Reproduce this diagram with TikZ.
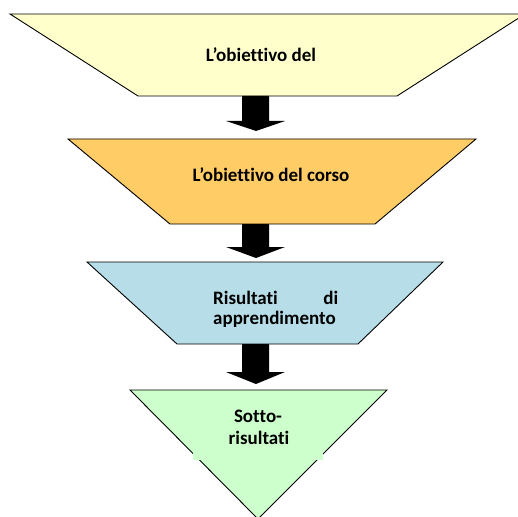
\documentclass[tikz,border=0pt]{standalone}
\usepackage{fontspec}
\setmainfont{Carlito}[Ligatures={NoCommon,NoContextual}]
\definecolor{cyellow}{HTML}{FFFFCC}
\definecolor{corange}{HTML}{FFCC66}
\definecolor{cblue}{HTML}{B7DEE8}
\definecolor{cgreen}{HTML}{CCFFCC}
\newcommand{\sq}{\char"0027\relax}
\tikzset{
  level/.style={draw=black, line width=0.9bp, line join=miter},
  label/.style={inner sep=0pt, anchor=base, font=\fontsize{19bp}{21bp}\selectfont\bfseries},
  barrow/.style={fill=black, draw=none}
}
\begin{document}
\begin{tikzpicture}[x=1bp, y=-1bp]
\useasboundingbox (0,0) rectangle (517,517);
% levels
\draw[level, fill=cyellow] (10,14) -- (525,14) -- (397,96) -- (138,96) -- cycle;
\draw[level, fill=corange] (68,139) -- (476,139) -- (375,224) -- (170,224) -- cycle;
\draw[level, fill=cblue] (87,262) -- (443,262) -- (358,344) -- (177,344) -- cycle;
\draw[level, fill=cgreen] (130,390) -- (387,390) -- (258,519) -- cycle;
\fill[cgreen] (193,390.6) rectangle (323,460);
% texts
\node[label] (t1) at (261,62) {L\sq obiettivo del};
\node[label] (t2) at (271,182) {L\sq obiettivo del corso};
\node[label, anchor=base west] (t3a) at (213,304) {\makebox[125bp][s]{Risultati\hfill di}};
\node[label, anchor=base west] (t3b) at (213,324) {apprendimento};
\node[label] (t4a) at (258,422) {Sotto-};
\node[label] (t4b) at (259,444) {risultati};
% block arrows
\fill[barrow] (242,96) -- (269,96) -- (269,121) -- (285,121) -- (256,131) -- (226,121) -- (242,121) -- cycle;
\fill[barrow] (242,224) -- (269,224) -- (269,247) -- (285,247) -- (256,258) -- (226,247) -- (242,247) -- cycle;
\fill[barrow] (242,344) -- (269,344) -- (269,372) -- (285,372) -- (256,384) -- (226,372) -- (242,372) -- cycle;
\end{tikzpicture}
\end{document}
